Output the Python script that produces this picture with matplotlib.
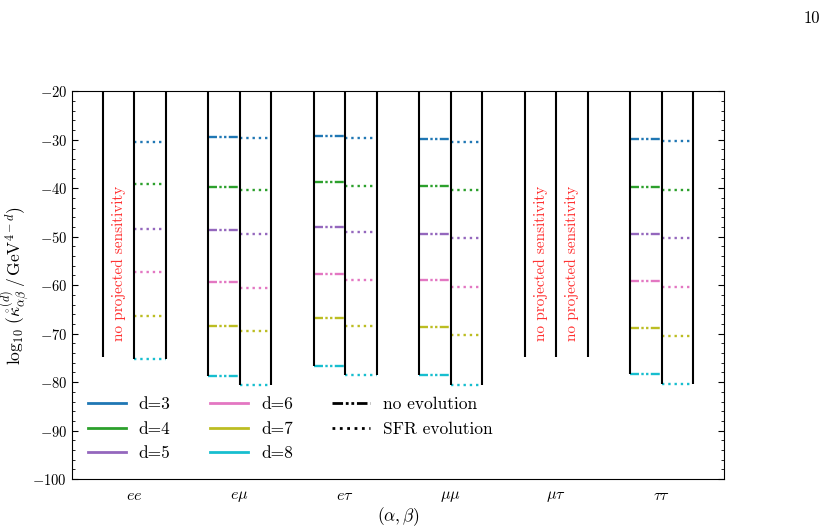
import matplotlib
matplotlib.use("Agg")
import matplotlib.pyplot as plt
from matplotlib.ticker import MultipleLocator
from matplotlib.lines import Line2D

plt.rcParams["font.family"] = "serif"
plt.rcParams["font.serif"] = ["cmr10"]
plt.rcParams["mathtext.fontset"] = "cm"
plt.rcParams["axes.formatter.use_mathtext"] = True
plt.rcParams["axes.unicode_minus"] = True

# DATA
pairs = ["$ee$", r"$e\mu$", r"$e\tau$", r"$\mu\mu$", r"$\mu\tau$", r"$\tau\tau$"]
dims = [3, 4, 5, 6, 7, 8]
dim_colors = ["#1f77b4", "#2ca02c", "#9467bd", "#e377c2", "#bcbd22", "#17becf"]

# log10 sensitivities, one list per (alpha, beta); None = no projected sensitivity
no_evolution = [
    None,
    [-29.4, -39.8, -48.6, -59.4, -68.4, -78.8],
    [-29.3, -38.7, -48.1, -57.7, -66.7, -76.6],
    [-29.9, -39.5, -49.4, -59.0, -68.6, -78.6],
    None,
    [-29.9, -39.8, -49.4, -59.2, -68.9, -78.3],
]
sfr_evolution = [
    [-30.4, -39.1, -48.4, -57.3, -66.4, -75.3],
    [-29.7, -40.4, -49.5, -60.5, -69.4, -80.6],
    [-29.7, -39.5, -49.1, -59.0, -68.4, -78.5],
    [-30.4, -40.3, -50.3, -60.3, -70.3, -80.5],
    None,
    [-30.3, -40.4, -50.3, -60.4, -70.4, -80.3],
]
no_sens_floor = -74.8

# STYLE
half = 0.3
dashdotdot = (0, (3.8, 1.0, 1.0, 1.0, 1.0, 1.0))

fig = plt.figure(figsize=(8.37, 5.30), dpi=100)
ax = fig.add_axes([0.086, 0.096, 0.779, 0.732])

for i, (ne, sf) in enumerate(zip(no_evolution, sfr_evolution)):
    left, mid, right = i - half, i, i + half

    # horizontal markers
    for vals, ls, x0, x1 in [(ne, dashdotdot, left, mid), (sf, ":", mid, right)]:
        if vals is None:
            ax.text((x0 + x1) / 2, -55.5, "no projected sensitivity",
                    rotation=90, ha="center", va="center",
                    color="#ff3030", fontsize=11)
            continue
        for v, c in zip(vals, dim_colors):
            ax.hlines(v, x0, x1, colors=c, linestyles=[ls], linewidth=1.7, zorder=2)

    ne_low = min(ne) if ne is not None else no_sens_floor
    sf_low = min(sf) if sf is not None else no_sens_floor
    ax.vlines([left, mid, right], [ne_low, min(ne_low, sf_low), sf_low], -20,
              colors="black", linewidth=1.5, zorder=3)

# AXES
ax.set_xlim(-0.59, len(pairs) - 1 + 0.59)
ax.set_ylim(-100, -20)
ax.set_xticks(range(len(pairs)))
ax.set_xticklabels(pairs, fontsize=11.5)
ax.tick_params(axis="x", length=0, pad=7)
ax.yaxis.set_major_locator(MultipleLocator(10))
ax.yaxis.set_minor_locator(MultipleLocator(2))
ax.tick_params(axis="y", which="both", direction="in", left=True, right=True, labelsize=10.5)
ax.tick_params(axis="y", which="major", length=4)
ax.tick_params(axis="y", which="minor", length=2)

ax.set_xlabel(r"$(\alpha,\beta)$", fontsize=12.5, labelpad=1)
ax.set_ylabel(r"$\log_{10}\,(\mathring{\kappa}^{(d)}_{\alpha\beta}\,/\,\mathrm{GeV}^{4-d})$",
              fontsize=12.5)
ax.yaxis.set_label_coords(-0.061, 0.5)

# LEGEND
handles = [Line2D([], [], color=c, lw=2) for c in dim_colors]
labels = [f"d={d}" for d in dims]
handles += [Line2D([], [], color="black", lw=2, linestyle=dashdotdot),
            Line2D([], [], color="black", lw=2, linestyle=":")]
labels += ["no evolution", "SFR evolution"]
ax.legend(handles, labels, ncol=3, frameon=False, fontsize=12.5,
          loc="lower left", bbox_to_anchor=(0.0, 0.006),
          handlelength=2.2, handletextpad=0.75, columnspacing=2.25,
          labelspacing=0.52)

fig.text(0.98, 0.965, "10", ha="right", va="center", fontsize=12)

fig.savefig("out.png", dpi=100)
